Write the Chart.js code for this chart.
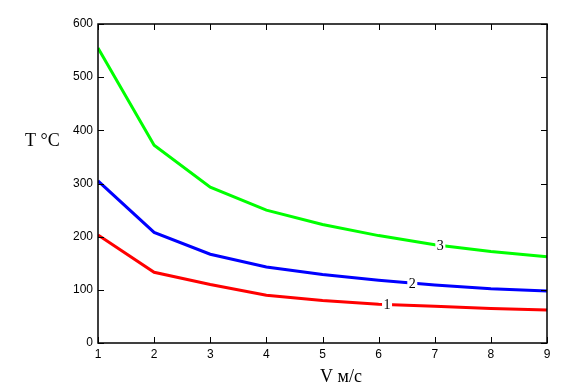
<!DOCTYPE html>
<html>
<head>
<meta charset="utf-8">
<script src="https://cdn.jsdelivr.net/npm/chart.js@4"></script>
<style>
  html, body { margin: 0; padding: 0; background: #fff; }
  #wrap { width: 576px; height: 387px; }
</style>
</head>
<body>
<div id="wrap"><canvas id="chart"></canvas></div>
<script>
  // speed V, m/s
  const speeds = [1, 2, 3, 4, 5, 6, 7, 8, 9];
  // temperature T, °C for curves 1..3
  const curve1 = [203, 133, 110, 90, 80, 73, 69, 65, 62];
  const curve2 = [305, 208, 167, 143, 129, 118, 109, 102, 98];
  const curve3 = [555, 372, 293, 250, 223, 202, 185, 172, 162];
  const curveNames = ['1', '2', '3'];
  const labelAt = [6.15, 6.6, 7.1];
  const xTicks = [1, 2, 3, 4, 5, 6, 7, 8, 9];
  const yTicks = [0, 100, 200, 300, 400, 500, 600];

  const serif = "'Liberation Serif', 'Times New Roman', serif";

  function pts(ys) {
    return speeds.map((x, i) => ({ x: x, y: ys[i] }));
  }

  function interp(ys, x) {
    const i = Math.min(Math.floor(x) - 1, speeds.length - 2);
    const t = x - speeds[i];
    return ys[i] + (ys[i + 1] - ys[i]) * t;
  }

  // box, inner ticks, curve numbers and axis titles
  const decor = {
    id: 'decor',
    afterDatasetsDraw(chart) {
      const ctx = chart.ctx;
      const a = chart.chartArea;
      const xs = chart.scales.x, ys = chart.scales.y;
      ctx.save();
      ctx.strokeStyle = '#000';
      ctx.lineWidth = 1.5;
      ctx.strokeRect(a.left, a.top, a.right - a.left, a.bottom - a.top);
      ctx.lineWidth = 1;
      ctx.beginPath();
      xTicks.forEach(v => {
        const px = Math.round(xs.getPixelForValue(v)) + 0.5;
        ctx.moveTo(px, a.bottom); ctx.lineTo(px, a.bottom - 6);
        ctx.moveTo(px, a.top); ctx.lineTo(px, a.top + 6);
      });
      yTicks.forEach(v => {
        const py = Math.round(ys.getPixelForValue(v)) + 0.5;
        ctx.moveTo(a.left, py); ctx.lineTo(a.left + 6, py);
        ctx.moveTo(a.right, py); ctx.lineTo(a.right - 6, py);
      });
      ctx.stroke();

      // curve numbers sitting on the lines
      ctx.font = '14px ' + serif;
      ctx.textAlign = 'center';
      ctx.textBaseline = 'middle';
      [curve1, curve2, curve3].forEach((c, i) => {
        const px = xs.getPixelForValue(labelAt[i]);
        const py = ys.getPixelForValue(interp(c, labelAt[i]));
        ctx.fillStyle = '#fff';
        ctx.fillRect(px - 5, py - 7, 10, 14);
        ctx.fillStyle = '#000';
        ctx.fillText(curveNames[i], px, py + 1);
      });

      ctx.font = '18px ' + serif;
      ctx.textAlign = 'left';
      ctx.fillText('T °C', 25, 141);
      ctx.fillText('V м/с', 320, 377);
      ctx.restore();
    }
  };

  const lineSet = (data, color) => ({
    data: pts(data),
    borderColor: color,
    borderWidth: 3,
    pointRadius: 0,
    tension: 0,
    fill: false
  });

  const tickFont = { family: "'Liberation Sans Narrow', 'Liberation Sans', Arial", size: 12 };

  new Chart(document.getElementById('chart'), {
    type: 'line',
    data: {
      datasets: [
        lineSet(curve1, '#ff0000'),
        lineSet(curve2, '#0000ff'),
        lineSet(curve3, '#00ff00')
      ]
    },
    options: {
      responsive: true,
      maintainAspectRatio: false,
      animation: false,
      layout: { padding: { left: 58, right: 29, top: 24, bottom: 22 } },
      plugins: { legend: { display: false }, tooltip: { enabled: false } },
      scales: {
        x: {
          type: 'linear', min: 1, max: 9,
          border: { display: false },
          grid: { display: false, drawTicks: false },
          afterBuildTicks: s => { s.ticks = xTicks.map(v => ({ value: v })); },
          afterFit: s => { s.height = 22; },
          ticks: { color: '#000', font: tickFont, padding: 4, maxRotation: 0 }
        },
        y: {
          min: 0, max: 600,
          border: { display: false },
          grid: { display: false, drawTicks: false },
          afterBuildTicks: s => { s.ticks = yTicks.map(v => ({ value: v })); },
          afterFit: s => { s.width = 40; },
          ticks: { color: '#000', font: tickFont, padding: 5 }
        }
      }
    },
    plugins: [decor]
  });
</script>
</body>
</html>
